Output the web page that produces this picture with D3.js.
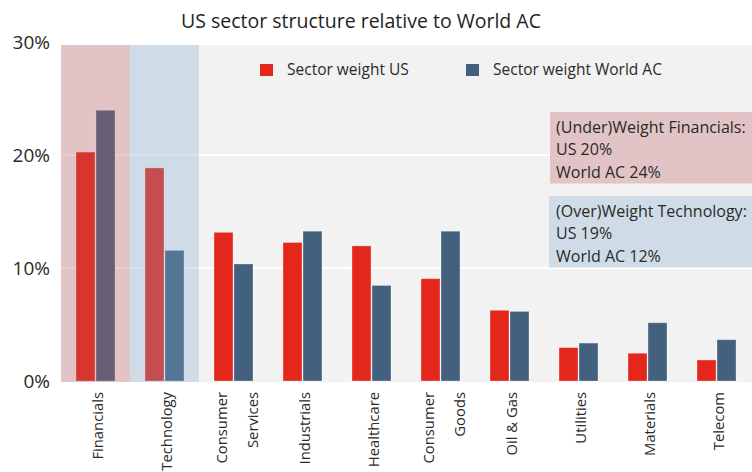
<!DOCTYPE html>
<html><head><meta charset="utf-8">
<script src="https://cdn.jsdelivr.net/npm/d3@7"></script>
<style>
html,body{margin:0;padding:0;background:#fff;}
svg{display:block;font-family:"Open Sans","Noto Sans",sans-serif;}
</style></head>
<body><svg id="c" width="752" height="472"></svg>
<script>
const categories = ["Financials","Technology","Consumer Services","Industrials","Healthcare","Consumer Goods","Oil & Gas","Utilities","Materials","Telecom"];
const seriesNames = ["Sector weight US","Sector weight World AC"];
const usValues = [20.3, 18.9, 13.2, 12.3, 12.0, 9.1, 6.3, 3.0, 2.5, 1.9];
const worldValues = [24.0, 11.6, 10.4, 13.3, 8.5, 13.3, 6.2, 3.4, 5.2, 3.7];
const yTicks = [0, 10, 20, 30];
const highlightCats = ["Financials","Technology"];
const notes = [
  ["(Under)Weight Financials:", "US 20%", "World AC 24%"],
  ["(Over)Weight Technology:", "US 19%", "World AC 12%"]
];
const colors = ["#e3271b", "#43617f"];
const highlightFill = ["rgba(189,89,95,0.3)", "rgba(125,165,205,0.3)"];
const noteFill = ["#e2c4c6", "#cfdbe7"];

const svg = d3.select("#c");
const plotL = 61, plotR = 751, plotTop = 45, y0 = 381;

const x = d3.scaleBand().domain(categories).range([plotL, plotR]).paddingInner(0).paddingOuter(0);
const x1 = d3.scaleBand().domain([0,1]).range([0, x.bandwidth()]).paddingInner(0).paddingOuter(0.725);
const y = d3.scaleLinear().domain([0, 30]).range([y0, 42]);

// title
svg.append("text").attr("x", 361).attr("y", 28).attr("text-anchor","middle")
  .attr("font-size", 19.5).attr("fill","#1f1f1f").text("US sector structure relative to World AC");

// plot background
svg.append("rect").attr("x", plotL).attr("y", plotTop).attr("width", plotR - plotL + 1).attr("height", y0 - plotTop + 1).attr("fill","#f2f2f2");

// gridlines
svg.append("g").selectAll("line").data(yTicks.filter(d => d > 0 && y(d) > plotTop)).join("line")
  .attr("x1", plotL).attr("x2", 752).attr("y1", d => y(d)).attr("y2", d => y(d))
  .attr("stroke", "#ffffff").attr("stroke-width", 2);

// bars
const data = categories.map((c, i) => ({cat: c, vals: [usValues[i], worldValues[i]]}));
const groups = svg.append("g").selectAll("g").data(data).join("g")
  .attr("transform", d => `translate(${x(d.cat)},0)`);
groups.selectAll("rect").data(d => d.vals.map((v, k) => ({v, k}))).join("rect")
  .attr("x", d => x1(d.k) + 0.5).attr("width", x1.bandwidth() - 1)
  .attr("y", d => y(d.v) + 0.5).attr("height", d => y0 - y(d.v) - 0.5)
  .attr("fill", d => colors[d.k])
  .attr("stroke", "rgba(255,255,255,0.3)").attr("stroke-width", 1);

// highlight overlays
svg.append("g").selectAll("rect").data(highlightCats).join("rect")
  .attr("x", d => x(d)).attr("width", x.bandwidth())
  .attr("y", plotTop).attr("height", y0 - plotTop + 1)
  .attr("fill", (d, i) => highlightFill[i]);

// y axis
const yAxis = svg.append("g").attr("transform", "translate(50,0)")
  .call(d3.axisLeft(y).tickValues(yTicks).tickFormat(d => d + "%").tickSize(0).tickPadding(0));
yAxis.select(".domain").remove();
yAxis.selectAll("text").attr("font-size", 19).attr("fill", "#2a2a2a")
  .attr("font-family", "'Open Sans', sans-serif").attr("dy", "0.35em");

// x axis
const xAxis = svg.append("g").attr("transform", "translate(0,392)")
  .call(d3.axisBottom(x).tickSize(0).tickPadding(0));
xAxis.select(".domain").remove();
xAxis.selectAll(".tick text").each(function(d) {
  const t = d3.select(this);
  t.text(null).attr("transform", "rotate(-90)").attr("text-anchor", "end")
    .attr("font-size", 14.8).attr("fill", "#2a2a2a").attr("font-family", "'Open Sans', sans-serif")
    .attr("x", 0).attr("y", 0).attr("dy", null);
  const parts = d.split(" ");
  if (parts.length === 2 && d.startsWith("Consumer")) {
    t.append("tspan").attr("x", 0).attr("y", -12).attr("dy", "0.35em").text(parts[0]);
    t.append("tspan").attr("x", 0).attr("y", 19).attr("dy", "0.35em").text(parts[1]);
  } else {
    t.append("tspan").attr("x", 0).attr("y", 2.5).attr("dy", "0.35em").text(d);
  }
});

// legend
const legendX = [260, 466];
const lg = svg.append("g").selectAll("g").data(seriesNames).join("g")
  .attr("transform", (d, i) => `translate(${legendX[i]},64)`);
lg.append("rect").attr("width", 13).attr("height", 12).attr("fill", (d, i) => colors[i]);
lg.append("text").attr("x", 27).attr("y", 11).attr("font-size", 15.5).attr("fill", "#2a2a2a").text(d => d);

// annotation boxes
const noteTop = [112, 196];
const noteLeft = [550, 549];
const ng = svg.append("g").selectAll("g").data(notes).join("g");
ng.append("rect").attr("x", (d, i) => noteLeft[i]).attr("y", (d, i) => noteTop[i])
  .attr("width", (d, i) => 752 - noteLeft[i]).attr("height", 71.5).attr("fill", (d, i) => noteFill[i]);
ng.each(function(d, i) {
  d3.select(this).selectAll("text").data(d).join("text")
    .attr("x", 556).attr("y", (s, j) => noteTop[i] + 20.5 + j * 22.5)
    .attr("font-size", 16).attr("fill", "#2a2a2a").text(s => s);
});
</script>
</body></html>
